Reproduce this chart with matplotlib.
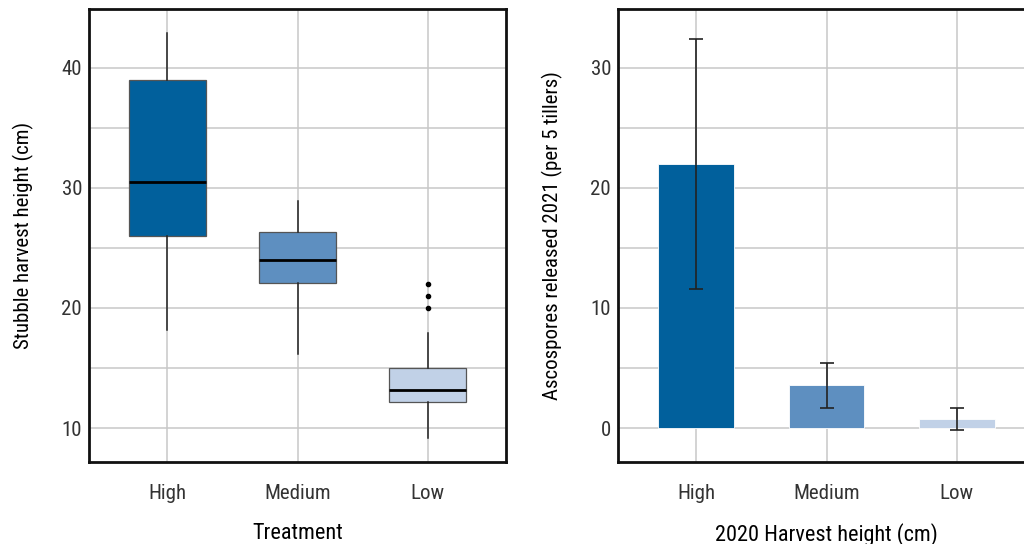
import matplotlib
matplotlib.use("Agg")
import matplotlib.pyplot as plt
from matplotlib import font_manager

# data
treatments = ["High", "Medium", "Low"]
whislo = [18.2, 16.2, 9.2]
q1 = [26.0, 22.1, 12.2]
med = [30.5, 24.0, 13.2]
q3 = [39.0, 26.3, 15.0]
whishi = [42.9, 28.9, 17.9]
fliers = [[], [], [20.0, 21.0, 22.0]]

heights = ["High", "Medium", "Low"]
spores = [22.0, 3.55, 0.75]
spores_err = [10.4, 1.9, 0.95]

colors = ["#01609c", "#5e8fc0", "#c1d1e7"]

#pick a narrow font if one is around
names = {f.name for f in font_manager.fontManager.ttflist}
fam = "DejaVu Sans"
for cand in ["Liberation Sans Narrow", "Roboto Condensed", "Open Sans Condensed",
             "Noto Sans Condensed", "DejaVu Sans Condensed", "Roboto", "Liberation Sans"]:
    if cand in names:
        fam = cand
        break
plt.rcParams["font.family"] = [fam, "DejaVu Sans"]

fig = plt.figure(figsize=(10.24, 5.44), dpi=100)
ax1 = fig.add_axes([89 / 1024, 82 / 544, 417 / 1024, 453 / 544])
ax2 = fig.add_axes([618 / 1024, 82 / 544, 417 / 1024, 453 / 544])

#boxplot panel
stats = []
for i in range(3):
    stats.append(dict(med=med[i], q1=q1[i], q3=q3[i], whislo=whislo[i],
                      whishi=whishi[i], fliers=fliers[i]))
bp = ax1.bxp(stats, positions=range(3), widths=0.59, patch_artist=True,
             showcaps=False,
             boxprops=dict(edgecolor="#555555", linewidth=0.9),
             medianprops=dict(color="black", linewidth=2),
             whiskerprops=dict(color="#222222", linewidth=1.1),
             flierprops=dict(marker="o", markersize=3, markerfacecolor="black",
                             markeredgecolor="black"))
for patch, c in zip(bp["boxes"], colors):
    patch.set_facecolor(c)
ax1.set_ylim(7.17, 44.9)
ax1.set_yticks([10, 20, 30, 40])
ax1.set_yticks([15, 25, 35], minor=True)
ax1.set_ylabel("Stubble harvest height (cm)", fontsize=15, labelpad=20)
ax1.set_xlabel("Treatment", fontsize=16, labelpad=14)

#bar panel
x = list(range(3))
ax2.bar(x, spores, width=0.58, color=colors, edgecolor="white", linewidth=0.6, zorder=2)
ax2.errorbar(x, spores, yerr=spores_err, fmt="none", ecolor="#222222",
             elinewidth=1.2, capsize=5, capthick=1.2, zorder=3)
ax2.set_ylim(-2.83, 34.9)
ax2.set_yticks([0, 10, 20, 30])
ax2.set_yticks([5, 15, 25], minor=True)
ax2.set_ylabel("Ascospores released 2021 (per 5 tillers)", fontsize=15, labelpad=20)
ax2.set_xlabel("2020 Harvest height (cm)", fontsize=16, labelpad=14)

for ax, labels in [(ax1, treatments), (ax2, heights)]:
    ax.set_xlim(-0.6, 2.6)
    ax.set_xticks(range(3))
    ax.set_xticklabels(labels)
    ax.set_axisbelow(True)
    ax.grid(True, which="both", color="#c8c8c8", linewidth=1.1)
    ax.tick_params(which="both", length=0)
    ax.tick_params(axis="x", pad=16, labelsize=15, labelcolor="#333333")
    ax.tick_params(axis="y", pad=5, labelsize=15, labelcolor="#333333")
    for s in ax.spines.values():
        s.set_linewidth(2)
        s.set_color("#111111")

fig.savefig("out.png", dpi=100)
